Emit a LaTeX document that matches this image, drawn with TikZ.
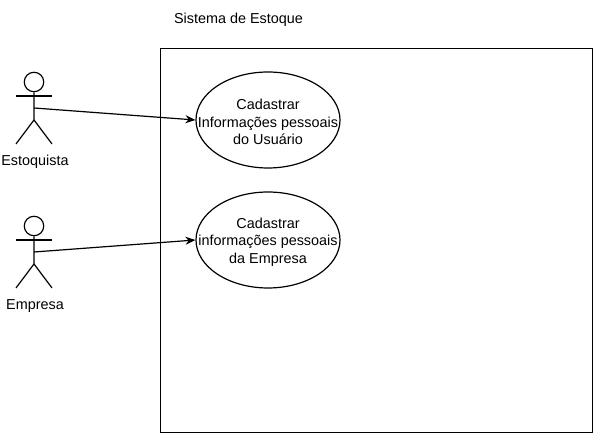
\documentclass[tikz,border=0pt]{standalone}
\usepackage{fontspec}
\setmainfont{Liberation Sans}
\usetikzlibrary{arrows.meta,shapes.geometric}
\tikzset{
  line/.style={draw=black,line width=0.9pt},
  usecase/.style={line,ellipse,inner sep=0pt,minimum width=108pt,minimum height=72pt},
  label/.style={inner sep=0pt,align=center,font=\fontsize{10.8}{13}\selectfont,text=black},
  head/.style={line,circle,inner sep=0pt,minimum size=14.6pt},
  link/.style={line,-{Stealth[length=7.5pt,width=6pt]}}
}
\begin{document}
\begin{tikzpicture}[x=0.75pt,y=-0.75pt]
\useasboundingbox (0,0) rectangle (593,434);
\node[line,inner sep=0pt,anchor=north west,minimum width=324pt,minimum height=288pt] (system) at (160,48) {};
\node[label] (title) at (238.5,19.5) {Sistema de Estoque};
\node[usecase] (uc1) at (268,120) {};
\node[label] (t1) at (268,122) {Cadastrar\\Informações pessoais\\do Usuário};
\node[usecase] (uc2) at (268,240) {};
\node[label] (t2) at (268,242) {Cadastrar\\informações pessoais\\da Empresa};
% actor 1
\node[head] (h1) at (34,82) {};
\coordinate (n1) at (34,108);
\coordinate (c1) at (34,120);
\draw[line] (h1.south) -- (c1) -- (16,144);
\draw[line] (c1) -- (52,144);
\draw[line] (16,96) -- (52,96);
\node[label] (a1) at (35,162) {Estoquista};
% actor 2
\node[head] (h2) at (34,226) {};
\coordinate (n2) at (34,252);
\coordinate (c2) at (34,264);
\draw[line] (h2.south) -- (c2) -- (16,288);
\draw[line] (c2) -- (52,288);
\draw[line] (16,240) -- (52,240);
\node[label] (a2) at (35,306) {Empresa};
\draw[link] (n1) -- (uc1.west);
\draw[link] (n2) -- (uc2.west);
\end{tikzpicture}
\end{document}
